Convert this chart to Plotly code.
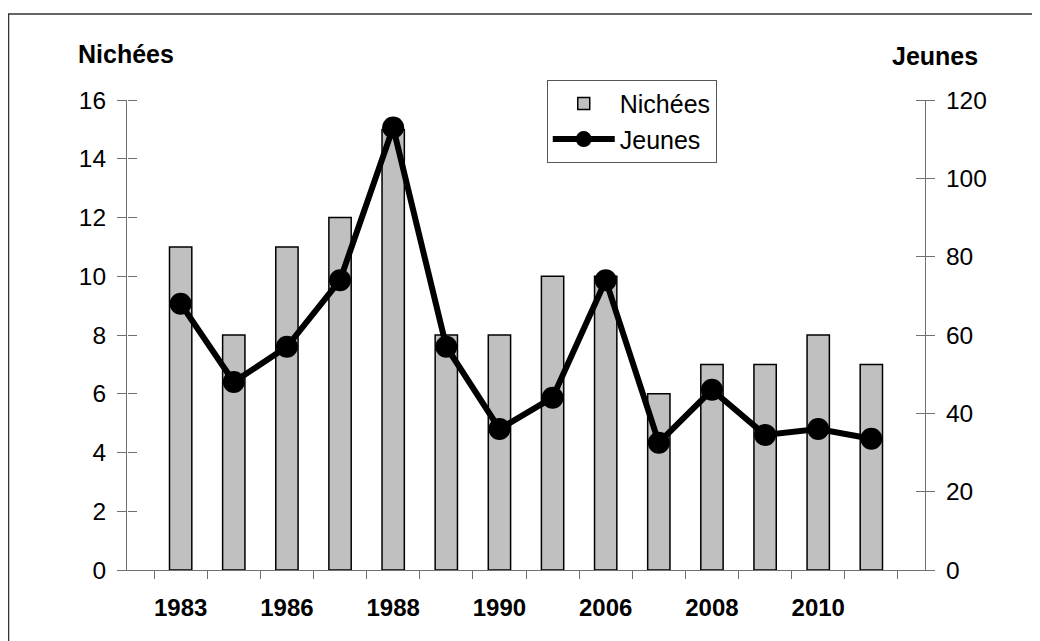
import plotly.graph_objects as go

years = ["1983", "1985", "1986", "1987", "1988", "1989", "1990",
         "2005", "2006", "2007", "2008", "2009", "2010", "2011"]
shown_labels = ["1983", "", "1986", "", "1988", "", "1990",
                "", "2006", "", "2008", "", "2010", ""]
nichees = [11, 8, 11, 12, 15, 8, 8, 10, 10, 6, 7, 7, 8, 7]
jeunes = [68, 48, 57, 74, 113, 57, 36, 44, 74, 32.5, 46, 34.5, 36, 33.5]

left_ticks = [0, 2, 4, 6, 8, 10, 12, 14, 16]
right_ticks = [0, 20, 40, 60, 80, 100, 120]

FONT = "Liberation Sans, Arial, sans-serif"
AXC = "#707070"

fig = go.Figure()
fig.add_trace(go.Bar(
    x=years, y=nichees, name="Nichées",
    marker=dict(color="#C0C0C0", line=dict(color="black", width=1.5)),
))
fig.add_trace(go.Scatter(
    x=years, y=jeunes, name="Jeunes", yaxis="y2",
    mode="lines+markers",
    line=dict(color="black", width=6),
    marker=dict(color="black", size=22),
))
# invisible helpers so that the extra axes (inner half of cross ticks) are drawn
fig.add_trace(go.Scatter(x=[years[0]], y=[0], yaxis="y3", mode="markers",
                         marker=dict(opacity=0), showlegend=False, hoverinfo="skip"))
fig.add_trace(go.Scatter(x=[years[0]], y=[0], yaxis="y4", mode="markers",
                         marker=dict(opacity=0), showlegend=False, hoverinfo="skip"))

tickfont = dict(family=FONT, size=24.5, color="black")

fig.update_layout(
    width=1040, height=641,
    margin=dict(l=119, r=123, t=92, b=79, autoexpand=False),
    paper_bgcolor="white", plot_bgcolor="white",
    bargap=0.58,
    showlegend=True,
    legend=dict(
        x=0.526, y=1.043, xanchor="left", yanchor="top",
        bordercolor="#555555", borderwidth=1, bgcolor="white",
        font=dict(family=FONT, size=25, color="black"),
        itemwidth=62, tracegroupgap=2,
    ),
    xaxis=dict(
        type="category", tickmode="array", tickvals=years, ticktext=shown_labels,
        tickson="boundaries", ticks="outside", ticklen=8, tickcolor=AXC,
        showline=True, linecolor=AXC, linewidth=1, showgrid=False,
        tickfont=dict(family=FONT, size=24, color="black", weight="bold"),
        ticklabelstandoff=16, tickangle=0, automargin=False,
    ),
    yaxis=dict(
        range=[0, 16], tickvals=left_ticks, ticks="outside", ticklen=9, tickcolor=AXC,
        showline=True, linecolor=AXC, linewidth=1, showgrid=False, zeroline=False,
        tickfont=tickfont, ticklabelstandoff=6, automargin=False,
    ),
    yaxis2=dict(
        range=[0, 120], tickvals=right_ticks, overlaying="y", side="right",
        ticks="outside", ticklen=9, tickcolor=AXC,
        showline=True, linecolor=AXC, linewidth=1, showgrid=False, zeroline=False,
        tickfont=tickfont, ticklabelstandoff=6, automargin=False,
    ),
    # inner halves of the cross ticks
    yaxis3=dict(
        range=[0, 16], tickvals=left_ticks, overlaying="y", anchor="free", position=0,
        side="right", ticks="outside", ticklen=9, tickcolor=AXC, tickwidth=1,
        showticklabels=False, showline=False, showgrid=False, zeroline=False,
        automargin=False,
    ),
    yaxis4=dict(
        range=[0, 120], tickvals=right_ticks, overlaying="y", anchor="free", position=1,
        side="left", ticks="outside", ticklen=9, tickcolor=AXC, tickwidth=1,
        showticklabels=False, showline=False, showgrid=False, zeroline=False,
        automargin=False,
    ),
    annotations=[
        dict(text="<b>Nichées</b>", xref="paper", yref="paper",
             x=(126 - 127) / 798, y=(570 - 54) / 470, xanchor="center", yanchor="middle",
             showarrow=False, font=dict(family=FONT, size=25, color="black")),
        dict(text="<b>Jeunes</b>", xref="paper", yref="paper",
             x=(935 - 127) / 798, y=(570 - 56) / 470, xanchor="center", yanchor="middle",
             showarrow=False, font=dict(family=FONT, size=25, color="black")),
    ],
    shapes=[
        dict(type="rect", xref="paper", yref="paper",
             x0=(8.5 - 127) / 798, x1=(1060 - 127) / 798,
             y0=(570 - 660) / 470, y1=(570 - 14) / 470,
             line=dict(color="#333333", width=1.5), layer="below"),
    ],
)

fig.write_html("out.html")
